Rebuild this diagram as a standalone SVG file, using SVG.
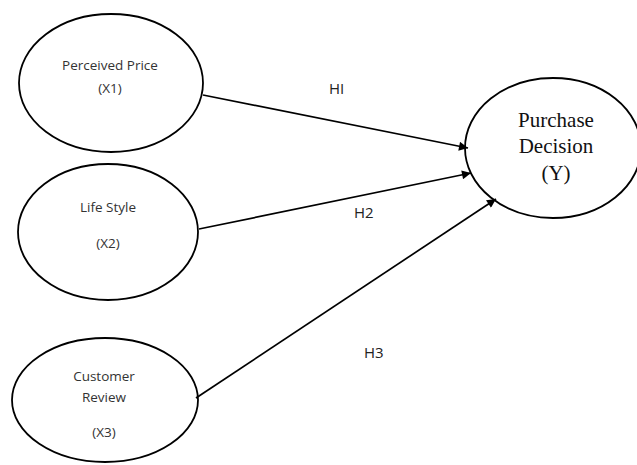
<svg xmlns="http://www.w3.org/2000/svg" width="637" height="465" viewBox="0 0 637 465">
<defs>
<marker id="ah" viewBox="0 0 10 10" refX="10" refY="5" markerWidth="10" markerHeight="9" markerUnits="userSpaceOnUse" orient="auto">
<path d="M0,0 L10,5 L0,10 z" fill="#000"/>
</marker>
<style>
.n ellipse{fill:#fff;stroke:#000;stroke-width:1.8}
.t{font-family:"Open Sans","Noto Sans",sans-serif;font-size:13.5px;fill:#333;text-anchor:middle}
.y{font-family:"Liberation Serif","Times New Roman",serif;font-size:21px;fill:#111;text-anchor:middle}
.c line{stroke:#000;stroke-width:1.7;marker-end:url(#ah)}
.l{font-family:"Open Sans","Noto Sans",sans-serif;font-size:15px;fill:#222}
</style>
</defs>
<rect width="637" height="465" fill="#fff"/>
<g id="x1" class="n">
<ellipse cx="111" cy="83" rx="92" ry="69"/>
<text class="t" x="110" y="70">Perceived Price</text>
<text class="t" x="110" y="93">(X1)</text>
</g>
<g id="x2" class="n">
<ellipse cx="108" cy="232" rx="90" ry="68"/>
<text class="t" x="108" y="212">Life Style</text>
<text class="t" x="108" y="248">(X2)</text>
</g>
<g id="x3" class="n">
<ellipse cx="105" cy="400" rx="93" ry="62"/>
<text class="t" x="104" y="381">Customer</text>
<text class="t" x="104" y="402">Review</text>
<text class="t" x="104" y="437">(X3)</text>
</g>
<g id="y" class="n">
<ellipse cx="553" cy="148" rx="88" ry="70"/>
<text class="y" x="556" y="127">Purchase</text>
<text class="y" x="556" y="153">Decision</text>
<text class="y" x="556" y="180">(Y)</text>
</g>
<g id="connectors" class="c">
<line x1="203" y1="95" x2="468" y2="148"/>
<line x1="199" y1="229" x2="471" y2="173"/>
<line x1="196" y1="398" x2="496" y2="199"/>
</g>
<g id="labels">
<text class="l" x="329" y="94">HI</text>
<text class="l" x="354" y="218">H2</text>
<text class="l" x="364" y="358">H3</text>
</g>
</svg>
